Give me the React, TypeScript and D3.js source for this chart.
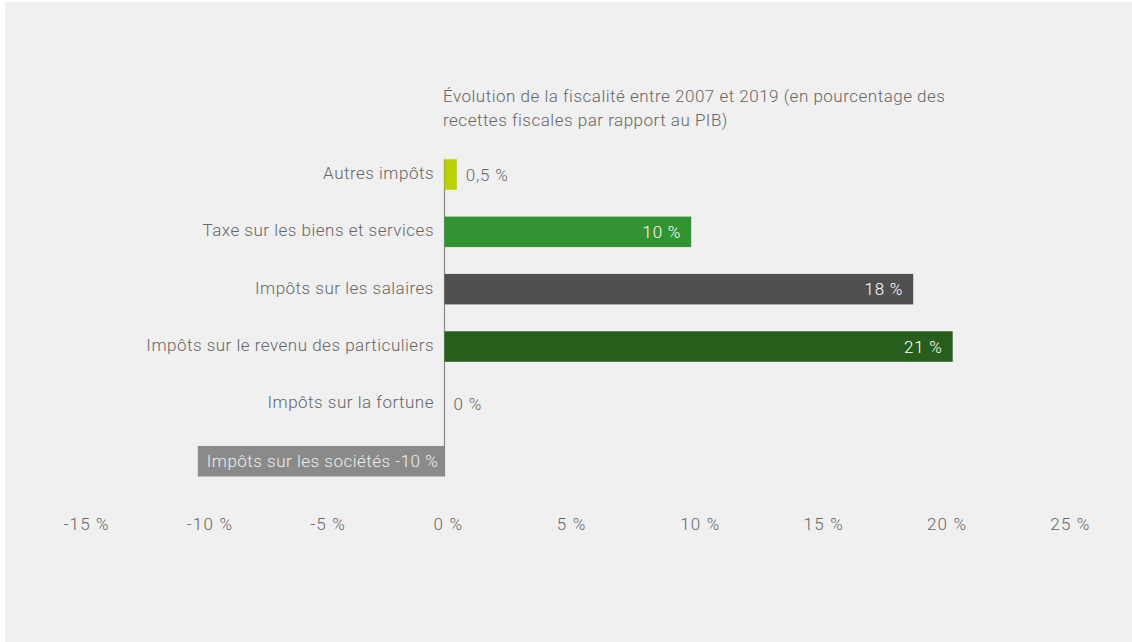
import React from "react";
import * as d3 from "d3";

const categories = [
  "Autres impôts",
  "Taxe sur les biens et services",
  "Impôts sur les salaires",
  "Impôts sur le revenu des particuliers",
  "Impôts sur la fortune",
  "Impôts sur les sociétés",
];
const values = [0.5, 10, 19, 20.6, 0, -10];
const valueLabels = ["0,5 %", "10 %", "18 %", "21 %", "0 %", "-10 %"];
const colors = ["#bccf00", "#319331", "#505050", "#285e1b", "#9a9a9a", "#8a8a8a"];
const tickValues = [-15, -10, -5, 0, 5, 10, 15, 20, 25];
const tickLabels = ["-15 %", "-10 %", "-5 %", "0 %", "5 %", "10 %", "15 %", "20 %", "25 %"];
const titleLines = [
  "Évolution de la fiscalité entre 2007 et 2019 (en pourcentage des",
  "recettes fiscales par rapport au PIB)",
];

const W = 1132;
const H = 642;
const FONT = "Roboto, 'Open Sans', sans-serif";

export default function App() {
  const x = d3.scaleLinear().domain([-15, 25]).range([74.45, 1061.25]);
  const y = d3
    .scaleBand<string>()
    .domain(categories)
    .range([132.4, 503.3])
    .paddingInner(0.468)
    .paddingOuter(0.468);
  const bw = y.bandwidth();
  const x0 = x(0);

  return (
    <svg
      width={W}
      height={H}
      style={{ position: "absolute", left: 0, top: 0, display: "block" }}
      fontFamily={FONT}
    >
      <rect x={0} y={0} width={W} height={H} fill="#ffffff" />
      <rect x={5} y={2} width={W - 5} height={H - 2} fill="#f0f0f0" />

      {titleLines.map((t, i) => (
        <text key={i} x={443} y={102 + i * 23.5} fontSize={17} fill="#666" fontWeight={300} letterSpacing={0.5}>
          {t}
        </text>
      ))}

      <line
        x1={x0}
        x2={x0}
        y1={(y(categories[0]) as number)}
        y2={(y(categories[categories.length - 1]) as number) + bw}
        stroke="#888"
        strokeWidth={1.2}
      />

      {categories.map((c, i) => {
        const v = values[i];
        const yy = y(c) as number;
        const cy = yy + bw / 2;
        const left = x(Math.min(0, v));
        const right = x(Math.max(0, v));
        const neg = v < 0;
        const inside = v >= 5;
        return (
          <g key={c}>
            <rect x={left} y={yy} width={right - left} height={bw} fill={colors[i]} />
            {!neg && (
              <text x={x0 - 10.5} y={cy + 4.5} textAnchor="end" fontSize={17} fill="#666" fontWeight={300} letterSpacing={0.5}>
                {c}
              </text>
            )}
            {neg ? (
              <text x={left + 9} y={cy + 6} textAnchor="start" fontSize={17} fill="#eeeeee" fontWeight={300} letterSpacing={0.5}>
                {c + " " + valueLabels[i]}
              </text>
            ) : inside ? (
              <text x={right - 10} y={cy + 6} textAnchor="end" fontSize={17} fill="#ffffff" fontWeight={300} letterSpacing={0.8}>
                {valueLabels[i]}
              </text>
            ) : (
              <text x={right + 9} y={cy + 6.5} textAnchor="start" fontSize={17} fill="#666" fontWeight={300} letterSpacing={0.8}>
                {valueLabels[i]}
              </text>
            )}
          </g>
        );
      })}

      {tickValues.map((t, i) => (
        <text key={t} x={x(t) - 11} y={530} textAnchor="start" fontSize={17} fill="#666" fontWeight={300} letterSpacing={1.2}>
          {tickLabels[i]}
        </text>
      ))}
    </svg>
  );
}
